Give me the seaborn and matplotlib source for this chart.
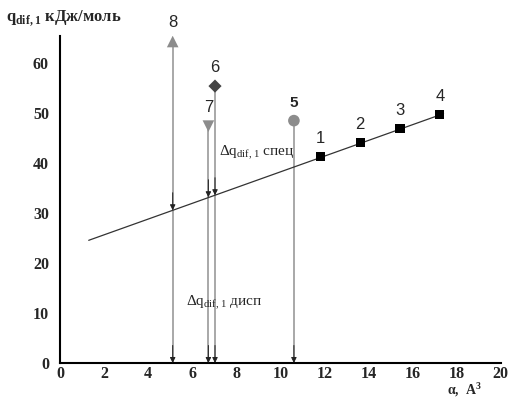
import matplotlib
matplotlib.use("Agg")
import matplotlib.pyplot as plt
import seaborn as sns
import pandas as pd

# data
labels = ["1", "2", "3", "4", "5", "6", "7", "8"]
alpha = [11.82, 13.62, 15.43, 17.23, 10.61, 7.03, 6.73, 5.11]
qdif = [41.2, 44.0, 46.8, 49.6, 48.4, 55.3, 47.3, 64.2]
groups = ["ref", "ref", "ref", "ref", "p5", "p6", "p7", "p8"]
line_x = [1.3, 17.4]
line_y = [24.5, 49.8]
# arrows to the regression line (labels 8, 7, 6)
arrow_x = [5.11, 6.73, 7.03]
arrow_top = [64.2, 47.3, 55.3]
arrow_line_y = [30.5, 33.1, 33.5]
# arrows down to axis (labels 8, 7, 6, 5)
drop_x = [5.11, 6.73, 7.03, 10.61]
drop_top = [64.2, 47.3, 55.3, 48.4]

sns.set_style("white")
plt.rcParams["mathtext.fontset"] = "custom"
plt.rcParams["mathtext.rm"] = "Liberation Serif"
plt.rcParams["mathtext.bf"] = "Liberation Serif:bold"

fig = plt.figure(figsize=(5.09, 4.0), dpi=100)
ax = fig.add_axes([0.118, 0.0925, 0.866, 0.8175])

df = pd.DataFrame({"x": alpha, "y": qdif, "g": groups, "lab": labels})

# vertical drop lines to axis
for x, t in zip(drop_x, drop_top):
    ax.plot([x, x], [0, t], color="#9a9a9a", lw=1.2, zorder=2)
    ax.annotate("", xy=(x, 0), xytext=(x, 3.5),
                arrowprops=dict(arrowstyle="-|>", color="#222222", lw=0.7,
                                mutation_scale=8, shrinkA=0, shrinkB=0))
# arrows down to regression line
for x, t, ly in zip(arrow_x, arrow_top, arrow_line_y):
    ax.annotate("", xy=(x, ly), xytext=(x, ly + 3.5),
                arrowprops=dict(arrowstyle="-|>", color="#222222", lw=0.7,
                                mutation_scale=8, shrinkA=0, shrinkB=0))

sns.lineplot(x=line_x, y=line_y, ax=ax, color="#333333", lw=0.9)

styles = {
    "ref": dict(marker="s", color="black", s=45),
    "p5": dict(marker="o", color="#8c8c8c", s=70),
    "p6": dict(marker="D", color="#444444", s=45),
    "p7": dict(marker="v", color="#8c8c8c", s=70),
    "p8": dict(marker="^", color="#8c8c8c", s=70),
}
for g, st in styles.items():
    sub = df[df.g == g]
    sns.scatterplot(data=sub, x="x", y="y", ax=ax, marker=st["marker"],
                    color=st["color"], s=st["s"], edgecolor="none", zorder=5)

for lab, x, y in zip(labels, alpha, qdif):
    if lab == "5":
        ax.text(x, y + 2.2, lab, ha="center", va="bottom", fontsize=11,
                fontweight="bold", family="Liberation Sans")
    else:
        ax.text(x, y + 2.2, lab, ha="center", va="bottom", fontsize=12,
                family="Liberation Sans")

ax.text(7.2, 42.0, r"$\Delta\mathrm{q}_{\mathrm{dif,1}}$" + " спец", fontsize=11,
        family="Liberation Serif", ha="left", va="center")
ax.text(5.7, 12.0, r"$\Delta\mathrm{q}_{\mathrm{dif,1}}$" + " дисп", fontsize=11,
        family="Liberation Serif", ha="left", va="center")

ax.set_xlim(0, 20)
ax.set_ylim(0, 65.3)
ax.set_xticks(range(0, 21, 2))
ax.set_xticks(range(1, 20, 2), minor=True)
ax.set_yticks(range(0, 61, 10))
ax.set_yticks(range(5, 61, 10), minor=True)
ax.tick_params(axis="x", which="major", direction="in", length=6, width=1.3)
ax.tick_params(axis="x", which="minor", direction="in", length=4, width=1.3)
ax.tick_params(axis="y", which="major", direction="out", length=6, width=1.3)
ax.tick_params(axis="y", which="minor", direction="out", length=4, width=1.3)
ax.tick_params(axis="both", which="major", labelsize=11.5, pad=2)
for lbl in ax.get_xticklabels() + ax.get_yticklabels():
    lbl.set_fontfamily("Liberation Serif")
    lbl.set_fontweight("bold")
sns.despine(ax=ax)
for sp in ["left", "bottom"]:
    ax.spines[sp].set_linewidth(1.5)
    ax.spines[sp].set_color("black")
ax.set_xlabel("")
ax.set_ylabel("")

fig.text(0.012, 0.955, r"$\mathbf{q}_{\mathbf{dif,1}}$" + " кДж/моль", fontsize=12,
         family="Liberation Serif", fontweight="bold", ha="left", va="center")
fig.text(0.878, 0.002, r"$\mathbf{\alpha,\ A}^{\mathbf{3}}$", fontsize=10,
         family="Liberation Serif", fontweight="bold", ha="left", va="bottom")

fig.savefig("out.png", dpi=100)
